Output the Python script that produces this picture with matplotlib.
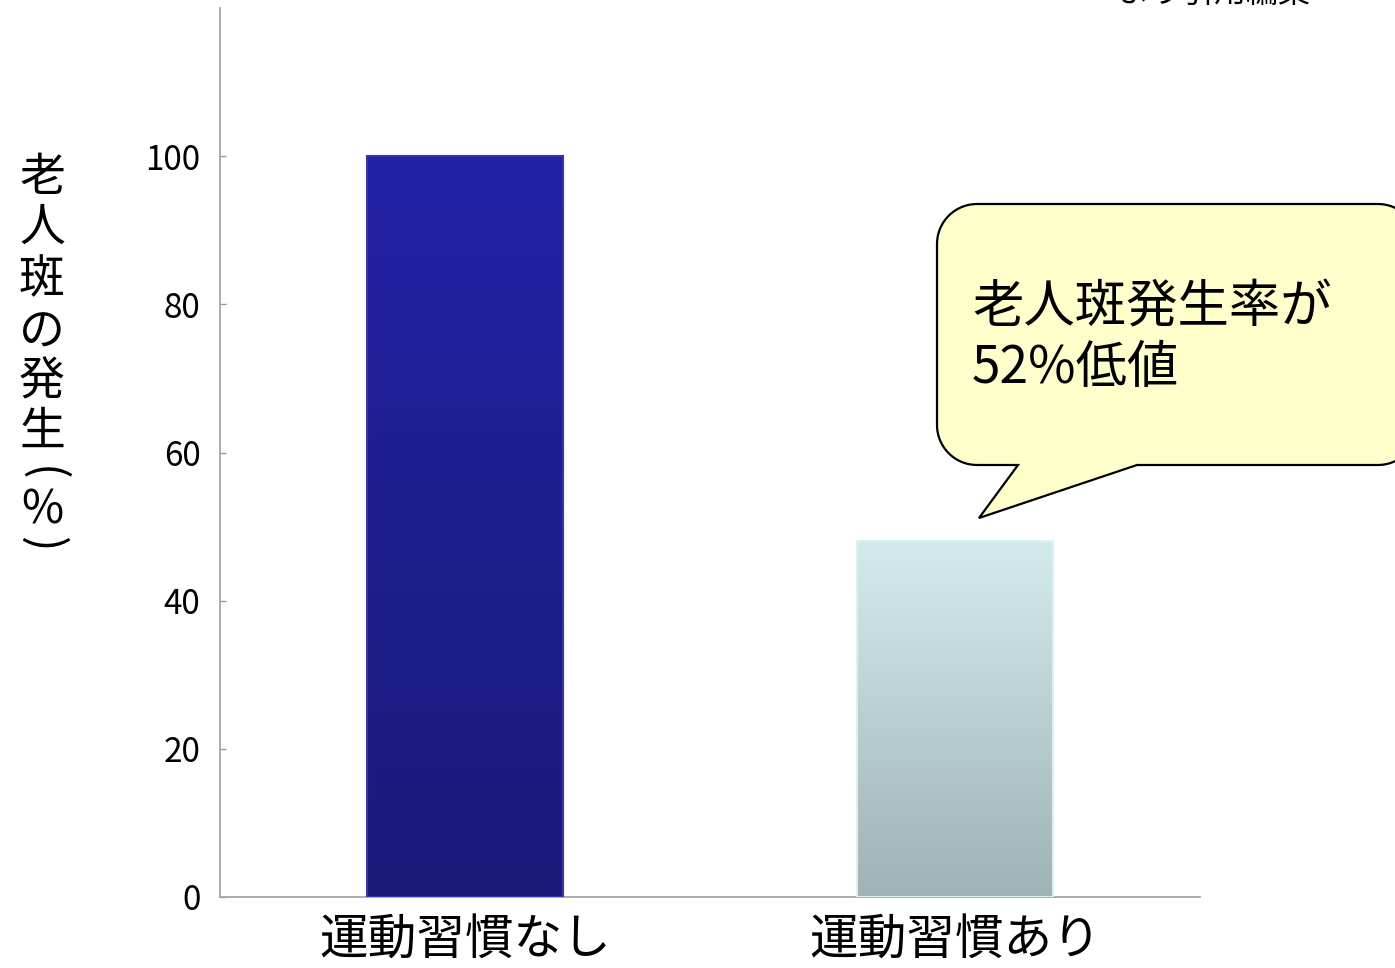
import numpy as np
import matplotlib
matplotlib.use("Agg")
import matplotlib.pyplot as plt
from matplotlib.path import Path
from matplotlib.patches import PathPatch
from matplotlib.colors import LinearSegmentedColormap

plt.rcParams['font.family'] = ['Noto Sans CJK JP', 'DejaVu Sans']

# data
groups = ['運動習慣なし', '運動習慣あり']
rates = [100, 48]
yticks = [0, 20, 40, 60, 80, 100]
ylabel_chars = ['老', '人', '斑', 'の', '発', '生', '(', '%', ')']
note_lines = ['老人斑発生率が', '52%低値']
source_note = 'より引用編集'

# gradient colours (bottom -> top) per bar
bar_grads = [('#1a1a78', '#2222a6'), ('#9fb2b5', '#d4ebee')]
bar_edges = ['#3434b0', '#dcf0f2']

W, H = 1395, 968
fig = plt.figure(figsize=(W / 100, H / 100), dpi=100)
ax = fig.add_axes([220 / W, 71 / H, 980 / W, 889 / H])

width = 0.4
x = np.arange(len(groups))
bars = ax.bar(x, rates, width=width, color='none', edgecolor='none', zorder=2)
for b, (c0, c1), ec in zip(bars, bar_grads, bar_edges):
    cmap = LinearSegmentedColormap.from_list('g', [c0, c1])
    grad = np.linspace(0, 1, 256).reshape(-1, 1)
    x0, h = b.get_x(), b.get_height()
    im = ax.imshow(grad, cmap=cmap, origin='lower', aspect='auto',
                   extent=(x0, x0 + b.get_width(), 0, h), zorder=2)
    im.set_clip_path(b)
    b.set_edgecolor(ec)
    b.set_linewidth(1.5)
    b.set_zorder(3)

ax.set_xlim(-0.5, 1.5)
ax.set_ylim(0, 120)
ax.set_yticks(yticks)
ax.set_xticks(x)
ax.set_xticklabels(groups, fontsize=35)
ax.tick_params(axis='x', length=0, pad=14)
ax.tick_params(axis='y', direction='in', length=4.5, width=1, color='#999999',
               labelsize=24, pad=14)
for s in ['top', 'right']:
    ax.spines[s].set_visible(False)
for s in ['left', 'bottom']:
    ax.spines[s].set_color('#a6a6a6')
    ax.spines[s].set_linewidth(1.3)

# vertical y-axis label, one glyph per row; brackets turned sideways
ys = [178, 228, 280, 332, 382, 432, 474, 510, 544]
rots = [0, 0, 0, 0, 0, 0, -90, 0, -90]
for ch, yy, rot in zip(ylabel_chars, ys, rots):
    fig.text(42 / W, 1 - yy / H, ch, fontsize=33, ha='center', va='center',
             rotation=rot, rotation_mode='anchor')

# speech bubble with a tail, in figure pixels (y from top)
def px(xp, yp):
    return (xp / W, 1 - yp / H)

L, T, R, B, r = 937, 204, 1418, 465, 40
tail = [(1137, 465), (979, 518), (1018, 465)]

def arc(cx, cy, a0, a1, n=20):
    t = np.radians(np.linspace(a0, a1, n))
    return [(cx + r * np.cos(t_), cy + r * np.sin(t_)) for t_ in t]

pts = []
pts += arc(L + r, T + r, 180, 270)           # top-left
pts += arc(R - r, T + r, 270, 360)           # top-right
pts += arc(R - r, B - r, 0, 90)              # bottom-right
pts += tail
pts += arc(L + r, B - r, 90, 180)            # bottom-left
pts.append(pts[0])
verts = [px(a, b) for a, b in pts]
codes = [Path.MOVETO] + [Path.LINETO] * (len(verts) - 2) + [Path.CLOSEPOLY]
bubble = PathPatch(Path(verts, codes), transform=fig.transFigure,
                   facecolor='#ffffcc', edgecolor='black', linewidth=1.6,
                   zorder=5)
fig.patches.append(bubble)

fig.text(972 / W, 1 - 308 / H, note_lines[0], fontsize=37, ha='left',
         va='center', zorder=6)
fig.text(972 / W, 1 - 368 / H, note_lines[1], fontsize=37, ha='left',
         va='center', zorder=6)

fig.text(1214 / W, 1 - (-6) / H, source_note, fontsize=23, ha='center',
         va='center')

fig.savefig('out.png', dpi=100)
